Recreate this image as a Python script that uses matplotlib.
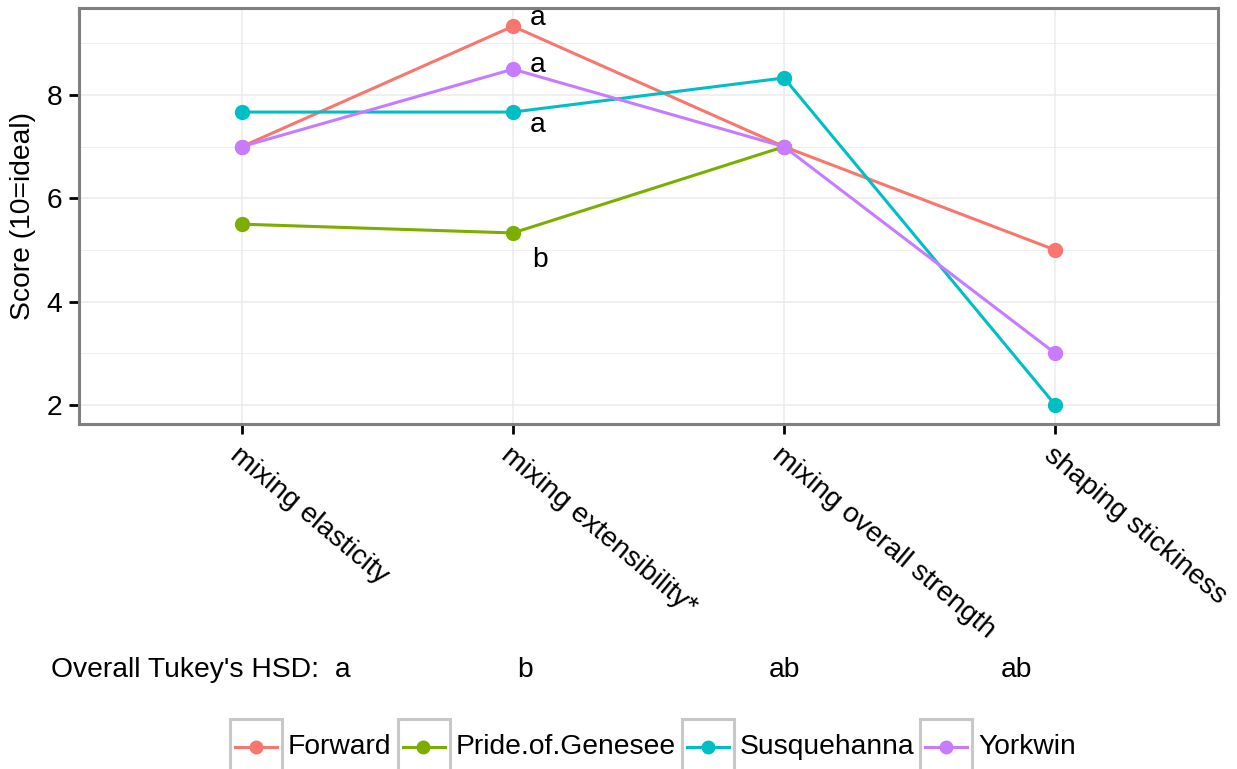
import numpy as np
import matplotlib
matplotlib.use("Agg")
import matplotlib.pyplot as plt
from matplotlib.lines import Line2D
from matplotlib.patches import Rectangle

plt.rcParams['font.family'] = ['Liberation Sans', 'DejaVu Sans']

categories = ["mixing elasticity", "mixing extensibility*", "mixing overall strength", "shaping stickiness"]
series_names = ["Forward", "Pride.of.Genesee", "Susquehanna", "Yorkwin"]
forward = [7.0, 9.33, 7.0, 5.0]
pride = [5.5, 5.33, 7.0, np.nan]
susquehanna = [7.67, 7.67, 8.33, 2.0]
yorkwin = [7.0, 8.5, 7.0, 3.0]
series_values = [forward, pride, susquehanna, yorkwin]
colors = ["#F8766D", "#7CAE00", "#00BFC4", "#C77CFF"]

# significance letters at "mixing extensibility*"
letter_cat = 1
letters = {"Forward": "a", "Yorkwin": "a", "Susquehanna": "a", "Pride.of.Genesee": "b"}
letter_offsets = {"Forward": (17, 1), "Yorkwin": (17, -3), "Susquehanna": (17, -20), "Pride.of.Genesee": (19, -34)}

tukey_label = "Overall Tukey's HSD:"
tukey_letters = ["a", "b", "ab", "ab"]

y_ticks = [2, 4, 6, 8]
y_minor = [3, 5, 7, 9]

FS = 20.3
W, H = 1237, 769
fig = plt.figure(figsize=(W / 100, H / 100), dpi=100)
ax = fig.add_axes([79 / W, 1 - 424 / H, (1218 - 79) / W, (424 - 8) / H])

x = np.arange(1, len(categories) + 1)
for name, vals, c in zip(series_names, series_values, colors):
    ax.plot(x, vals, color=c, lw=2.2, marker='o', ms=10, zorder=3, solid_capstyle='butt')

for name, vals in zip(series_names, series_values):
    if name in letters:
        ax.annotate(letters[name], (x[letter_cat], vals[letter_cat]), xytext=letter_offsets[name],
                    textcoords='offset pixels', ha='left', va='baseline', fontsize=FS, color='black')

ax.set_xlim(0.4, 4.6)
ax.set_ylim(1.632, 9.684)
ax.set_xticks(x)
ax.set_xticklabels(categories, rotation=-40, ha='left', va='top', rotation_mode='anchor', fontsize=FS)
ax.set_yticks(y_ticks)
ax.set_yticks(y_minor, minor=True)
ax.tick_params(axis='y', which='major', labelsize=FS, length=7, width=2, color='black', pad=5)
ax.tick_params(axis='x', which='major', length=7, width=2, color='black', pad=6)
ax.tick_params(axis='y', which='minor', length=0)
ax.grid(True, which='major', color='#EBEBEB', lw=1.1, zorder=0)
ax.grid(True, which='minor', axis='y', color='#EBEBEB', lw=0.6, zorder=0)
ax.set_axisbelow(True)
for sp in ax.spines.values():
    sp.set_color('#808080')
    sp.set_linewidth(2.2)
ax.set_ylabel("Score (10=ideal)", fontsize=FS)
ax.yaxis.set_label_coords(-(79 - 23) / (1218 - 79), 0.5)
ax.yaxis.label.set_va('center')

# Tukey row
fig.text(51 / W, 1 - 677 / H, tukey_label + "  " + tukey_letters[0], fontsize=FS, ha='left', va='baseline')
tukey_x = [None, 525, 784, 1016]
for lab, px in zip(tukey_letters[1:], tukey_x[1:]):
    fig.text(px / W, 1 - 677 / H, lab, fontsize=FS, ha='center', va='baseline')

# legend, drawn manually
fig.canvas.draw()
renderer = fig.canvas.get_renderer()
xpos = 230.0
box_w = 52.0
box_top = 719.0
text_y = 747.0
for name, c in zip(series_names, colors):
    rect = Rectangle((xpos / W, 1 - (box_top + 60) / H), box_w / W, 60 / H, transform=fig.transFigure,
                     facecolor='white', edgecolor='#C8C8C8', lw=2.2, clip_on=False)
    fig.patches.append(rect)
    fig.lines.append(Line2D([(xpos + 5) / W, (xpos + box_w - 5) / W], [1 - text_y / H] * 2,
                            transform=fig.transFigure, color=c, lw=2.2))
    fig.lines.append(Line2D([(xpos + box_w / 2) / W], [1 - text_y / H], transform=fig.transFigure,
                            color=c, marker='o', ms=9, lw=0))
    t = fig.text((xpos + box_w + 6) / W, 1 - text_y / H, name, fontsize=FS, ha='left', va='center')
    bb = t.get_window_extent(renderer)
    xpos = xpos + box_w + 6 + bb.width + 6

fig.savefig("out.png", dpi=100)
